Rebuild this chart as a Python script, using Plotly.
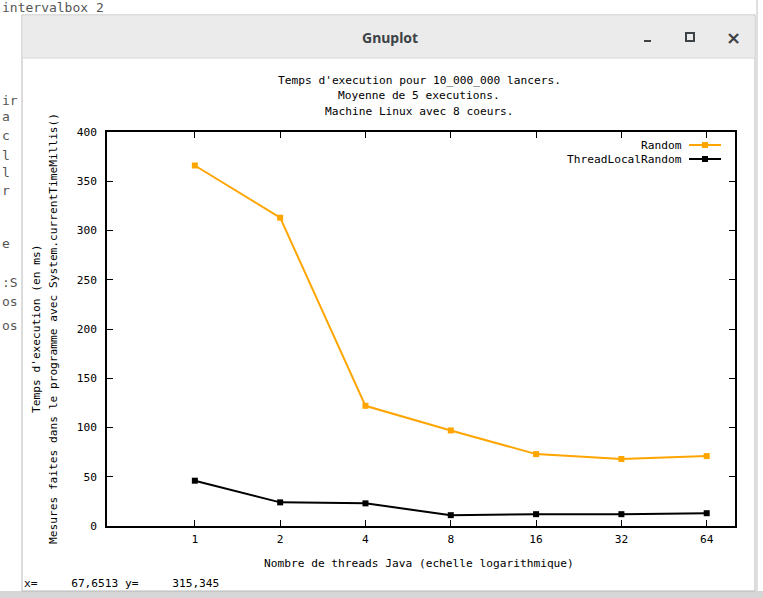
import plotly.graph_objects as go

# ---- data ----
threads = [1, 2, 4, 8, 16, 32, 64]
random_ms = [366, 313, 122, 97, 73, 68, 71]
tlr_ms = [46, 24, 23, 11, 12, 12, 13]
y_ticks = [0, 50, 100, 150, 200, 250, 300, 350, 400]
x_tick_labels = ["1", "2", "4", "8", "16", "32", "64"]
series_names = ["Random", "ThreadLocalRandom"]
title_lines = ["Temps d'execution pour 10_000_000 lancers.",
               "Moyenne de 5 executions.",
               "Machine Linux avec 8 coeurs."]
ylabel_lines = ["Temps d'execution (en ms)",
                "Mesures faites dans le programme avec System.currentTimeMillis()"]
xlabel = "Nombre de threads Java (echelle logarithmique)"
status = "x=     67,6513 y=     315,345"
bg_fragments = ["ir", "a", "c", "l", "l", "r", "e", ":S", "os", "os"]

W, H = 763, 598
L, R, T, B = 107, 735, 132, 526
ORANGE = "#ffa500"
MONO = "DejaVu Sans Mono"
FS = 11.2


def px(x):
    return (x - L) / (R - L)


def py(y):
    return (B - y) / (B - T)


def text(t, x, y, xanchor="center", angle=0, font=None):
    return dict(text=t, xref="paper", yref="paper", x=px(x), y=py(y), xanchor=xanchor, yanchor="middle",
                textangle=angle, showarrow=False,
                font=font or dict(family=MONO, size=FS, color="black"))


fig = go.Figure()
fig.add_trace(go.Scatter(x=threads, y=random_ms, mode="lines+markers", name=series_names[0],
                         line=dict(color=ORANGE, width=2),
                         marker=dict(symbol="square", size=6, color=ORANGE)))
fig.add_trace(go.Scatter(x=threads, y=tlr_ms, mode="lines+markers", name=series_names[1],
                         line=dict(color="black", width=2),
                         marker=dict(symbol="square", size=6, color="black")))

shapes = []
annotations = []

# window chrome
shapes.append(dict(type="rect", xref="paper", yref="paper", x0=px(0), x1=px(W), y0=py(591), y1=py(H),
                   fillcolor="#d6d6d6", line=dict(width=0), layer="below"))
shapes.append(dict(type="rect", xref="paper", yref="paper", x0=px(22), x1=px(755), y0=py(15), y1=py(591),
                   fillcolor="white", line=dict(color="#b8b8b8", width=1), layer="below"))
shapes.append(dict(type="rect", xref="paper", yref="paper", x0=px(22.5), x1=px(754.5), y0=py(15.5), y1=py(58),
                   fillcolor="#ebebeb", line=dict(width=0), layer="below"))
shapes.append(dict(type="line", xref="paper", yref="paper", x0=px(22), x1=px(755), y0=py(58), y1=py(58),
                   line=dict(color="#d8d8d8", width=1)))
shapes.append(dict(type="line", xref="paper", yref="paper", x0=px(757), x1=px(757), y0=py(0), y1=py(591),
                   line=dict(color="#c0c0c0", width=1)))
# minimize / maximize buttons
shapes.append(dict(type="rect", xref="paper", yref="paper", x0=px(644), x1=px(651), y0=py(40), y1=py(42),
                   fillcolor="#3c4246", line=dict(width=0)))
shapes.append(dict(type="rect", xref="paper", yref="paper", x0=px(686), x1=px(694), y0=py(33), y1=py(41),
                   fillcolor="rgba(0,0,0,0)", line=dict(color="#3c4246", width=2)))

annotations.append(text("Gnuplot", 390, 37,
                        font=dict(family="Noto Sans", size=14, color="#3c4246", weight="bold")))
annotations.append(text("×", 733, 37,
                        font=dict(family="DejaVu Sans", size=18, color="#3c4246", weight="bold")))
annotations.append(text("intervalbox 2", 0, 7, xanchor="left",
                        font=dict(family=MONO, size=13, color="#555")))
for frag, yy in zip(bg_fragments, [100, 117, 135, 155, 172, 190, 243, 282, 301, 325]):
    annotations.append(text(frag, 0, yy, xanchor="left",
                            font=dict(family=MONO, size=13, color="#555")))

# title
for t, yy in zip(title_lines, [80, 96, 111]):
    annotations.append(text(t, 419, yy))
# y labels
for t, xx in zip(ylabel_lines, [36, 53]):
    annotations.append(text(t, xx, 329, angle=-90))
# x label
annotations.append(text(xlabel, 419, 563))
# status line
annotations.append(text(status.replace(" ", "&nbsp;"), 22, 583, xanchor="left"))

# legend (gnuplot style: right aligned text, sample to the right)
for name, col, yy in zip(series_names, [ORANGE, "black"], [145, 159]):
    annotations.append(text(name, 684, yy, xanchor="right"))
    shapes.append(dict(type="line", xref="paper", yref="paper", x0=px(689), x1=px(721), y0=py(yy), y1=py(yy),
                       line=dict(color=col, width=2)))
    shapes.append(dict(type="rect", xref="paper", yref="paper", x0=px(702), x1=px(708), y0=py(yy - 3), y1=py(yy + 3),
                       fillcolor=col, line=dict(width=0)))

fig.update_layout(
    width=W, height=H,
    margin=dict(l=L, r=W - R, t=T, b=H - B),
    paper_bgcolor="white", plot_bgcolor="white",
    showlegend=False,
    shapes=shapes, annotations=annotations,
    font=dict(family=MONO, size=FS, color="black"),
)
fig.update_xaxes(type="log", range=[-0.31, 1.906], tickvals=threads, ticktext=x_tick_labels,
                 ticks="inside", ticklen=6, tickwidth=1, tickcolor="black",
                 showline=True, linecolor="black", linewidth=1.5, mirror="ticks",
                 showgrid=False, zeroline=False, ticklabelstandoff=2,
                 tickfont=dict(family=MONO, size=FS, color="black"))
fig.update_yaxes(range=[0, 400], tickvals=y_ticks,
                 ticks="inside", ticklen=6, tickwidth=1, tickcolor="black",
                 showline=True, linecolor="black", linewidth=1.5, mirror="ticks",
                 showgrid=False, zeroline=False, ticklabelstandoff=6,
                 tickfont=dict(family=MONO, size=FS, color="black"))

fig.write_html("out.html")
